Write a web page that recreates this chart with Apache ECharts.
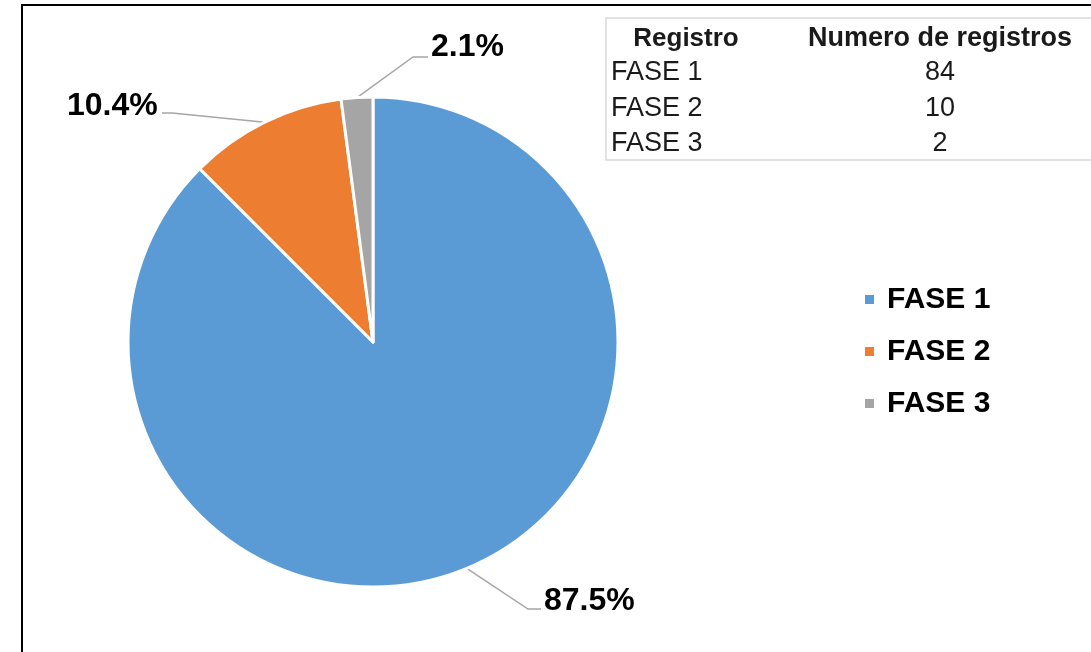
<!DOCTYPE html>
<html>
<head>
<meta charset="utf-8">
<script src="https://cdn.jsdelivr.net/npm/echarts@6/dist/echarts.min.js"></script>
<style>
  html, body { margin: 0; padding: 0; background: #fff; }
  #chart { width: 1091px; height: 652px; }
</style>
</head>
<body>
<div id="chart"></div>
<script>
// datos del gráfico
const fases = ['FASE 1', 'FASE 2', 'FASE 3'];
const registros = [84, 10, 2];
const colores = ['#5B9BD5', '#ED7D31', '#A5A5A5'];
const encabezados = ['Registro', 'Numero de registros'];

// posición de las etiquetas de porcentaje (texto y codo de la línea guía)
const etiquetas = [
  { x: 544, y: 601, bend: [528, 609], end: [541, 609] },
  { x: 67, y: 106, bend: [172, 113], end: [162, 113] },
  { x: 431, y: 47, bend: [413, 57], end: [428, 57] }
];

const total = registros.reduce((a, b) => a + b, 0);
const font = 'Liberation Sans, Arial, sans-serif';

const chart = echarts.init(document.getElementById('chart'));

// tabla de datos arriba a la derecha
const tabla = [
  {
    type: 'rect',
    shape: { x: 606, y: 18, width: 520, height: 142 },
    style: { fill: '#fff', stroke: '#d9d9d9', lineWidth: 1.5 }
  },
  {
    type: 'text', x: 686, y: 39,
    style: { text: encabezados[0], font: 'bold 26px ' + font, fill: '#1a1a1a', align: 'center', verticalAlign: 'middle' }
  },
  {
    type: 'text', x: 940, y: 39,
    style: { text: encabezados[1], font: 'bold 27px ' + font, fill: '#1a1a1a', align: 'center', verticalAlign: 'middle' }
  }
];
fases.forEach((f, i) => {
  tabla.push({
    type: 'text', x: 611, y: 73 + i * 35.5,
    style: { text: f, font: '27px ' + font, fill: '#1a1a1a', align: 'left', verticalAlign: 'middle' }
  });
  tabla.push({
    type: 'text', x: 940, y: 73 + i * 35.5,
    style: { text: String(registros[i]), font: '27px ' + font, fill: '#1a1a1a', align: 'center', verticalAlign: 'middle' }
  });
});

chart.setOption({
  animation: false,
  backgroundColor: '#fff',
  color: colores,
  graphic: [
    // marco del área del gráfico
    {
      type: 'rect',
      shape: { x: 22, y: 5, width: 1200, height: 800 },
      style: { fill: 'none', stroke: '#000', lineWidth: 2 },
      z: 0
    }
  ].concat(tabla),
  legend: {
    orient: 'vertical',
    left: 863,
    top: 284,
    padding: 0,
    icon: 'rect',
    itemWidth: 11,
    itemHeight: 11,
    itemGap: 21,
    selectedMode: false,
    data: fases,
    textStyle: {
      fontFamily: font,
      fontSize: 30,
      fontWeight: 'bold',
      color: '#000',
      lineHeight: 31,
      padding: [0, 0, 0, 7]
    }
  },
  series: [
    {
      type: 'pie',
      center: [373, 342],
      radius: 245,
      startAngle: 90,
      clockwise: true,
      silent: true,
      itemStyle: { borderColor: '#fff', borderWidth: 3 },
      label: {
        show: true,
        formatter: (p) => (p.value / total * 100).toFixed(1) + '%',
        fontFamily: font,
        fontSize: 32,
        fontWeight: 'bold',
        color: '#000'
      },
      labelLine: {
        show: true,
        lineStyle: { color: '#a6a6a6', width: 1.5 }
      },
      labelLayout: (params) => {
        const e = etiquetas[params.dataIndex];
        const pts = params.labelLinePoints;
        return {
          x: e.x,
          y: e.y,
          align: 'left',
          verticalAlign: 'middle',
          labelLinePoints: [pts ? pts[0] : e.bend, e.bend, e.end]
        };
      },
      data: fases.map((f, i) => ({ name: f, value: registros[i] }))
    }
  ]
});
</script>
</body>
</html>
